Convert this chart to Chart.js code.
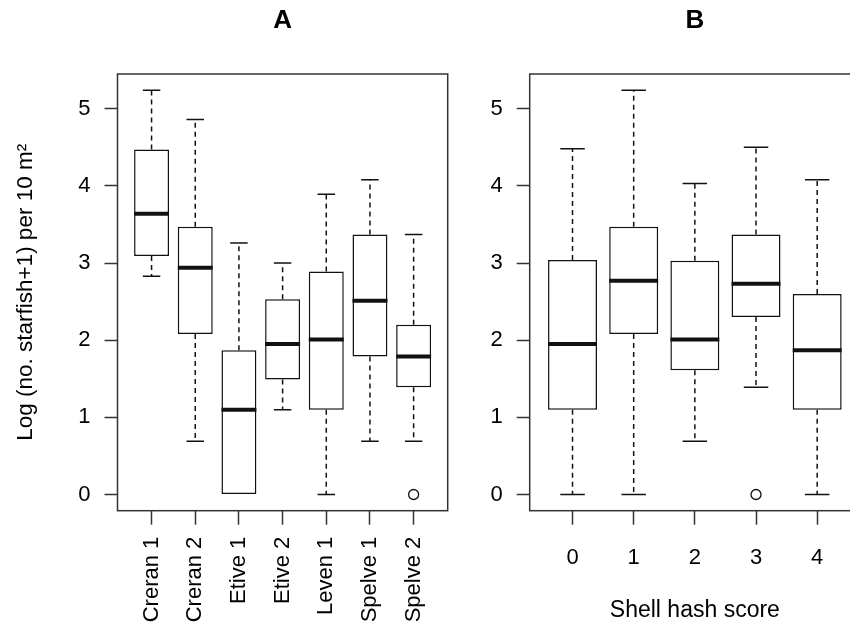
<!DOCTYPE html>
<html>
<head>
<meta charset="utf-8">
<script src="https://cdn.jsdelivr.net/npm/chart.js@4.4.1/dist/chart.umd.min.js"></script>
<style>
  html, body { margin: 0; padding: 0; background: #fff; overflow: hidden; width: 850px; height: 628px; }
  .panel { position: absolute; top: 0; height: 628px; }
  #wrapA { left: 0; width: 470px; }
  #wrapB { left: 425px; width: 445px; }
</style>
</head>
<body>
<div class="panel" id="wrapA"><canvas id="chartA" width="470" height="628"></canvas></div>
<div class="panel" id="wrapB"><canvas id="chartB" width="445" height="628"></canvas></div>
<script>
// ========== DATA ==========
// Panel A: by site
const siteLabels   = ['Creran 1', 'Creran 2', 'Etive 1', 'Etive 2', 'Leven 1', 'Spelve 1', 'Spelve 2'];
const siteLow      = [2.83, 0.69, 0.00, 1.10, 0.00, 0.69, 0.69];
const siteQ1       = [3.09, 2.08, 0.00, 1.49, 1.10, 1.79, 1.39];
const siteMedian   = [3.64, 2.94, 1.10, 1.95, 2.01, 2.51, 1.79];
const siteQ3       = [4.47, 3.47, 1.87, 2.53, 2.89, 3.37, 2.20];
const siteHigh     = [5.24, 4.86, 3.26, 3.00, 3.89, 4.08, 3.37];
const siteOutliers = [[], [], [], [], [], [], [0]];

// Panel B: by shell hash score
const hashLabels   = ['0', '1', '2', '3', '4'];
const hashLow      = [0.00, 0.00, 0.69, 1.39, 0.00];
const hashQ1       = [1.10, 2.08, 1.61, 2.30, 1.10];
const hashMedian   = [1.95, 2.77, 2.01, 2.73, 1.87];
const hashQ3       = [3.04, 3.47, 3.03, 3.37, 2.60];
const hashHigh     = [4.48, 5.24, 4.03, 4.50, 4.08];
const hashOutliers = [[], [], [], [0], []];

const yTicks = [0, 1, 2, 3, 4, 5];

// ========== STYLE ==========
const ink = '#111';
const frameColor = '#333';
const fontFamily = '"Liberation Sans", Arial, sans-serif';

// ========== BOXPLOT PLUGIN (whiskers, caps, medians, frame, panel letter) ==========
const boxPlot = {
    id: 'boxPlot',
    afterDatasetsDraw(chart, args, opts) {
        const { ctx, chartArea, scales: { x, y } } = chart;
        const unit = x.getPixelForValue(1) - x.getPixelForValue(0);
        const boxHalf = unit * 0.4;
        const capHalf = unit * 0.2;

        ctx.save();
        opts.median.forEach((m, i) => {
            const cx = x.getPixelForValue(i + 1);
            const yLow = y.getPixelForValue(opts.low[i]);
            const yQ1 = y.getPixelForValue(opts.q1[i]);
            const yQ3 = y.getPixelForValue(opts.q3[i]);
            const yHigh = y.getPixelForValue(opts.high[i]);

            // dashed whiskers
            ctx.strokeStyle = ink;
            ctx.lineWidth = 1.5;
            ctx.setLineDash([5, 4]);
            ctx.beginPath();
            if (yHigh < yQ3) { ctx.moveTo(cx, yQ3); ctx.lineTo(cx, yHigh); }
            if (yLow > yQ1) { ctx.moveTo(cx, yQ1); ctx.lineTo(cx, yLow); }
            ctx.stroke();

            // caps (hidden under the box edge when whisker has no length)
            ctx.setLineDash([]);
            ctx.beginPath();
            if (yHigh < yQ3) { ctx.moveTo(cx - capHalf, yHigh); ctx.lineTo(cx + capHalf, yHigh); }
            if (yLow > yQ1) { ctx.moveTo(cx - capHalf, yLow); ctx.lineTo(cx + capHalf, yLow); }
            ctx.stroke();

            // median
            const ym = y.getPixelForValue(m);
            ctx.lineWidth = 4;
            ctx.beginPath();
            ctx.moveTo(cx - boxHalf, ym); ctx.lineTo(cx + boxHalf, ym);
            ctx.stroke();
        });

        // plot frame
        ctx.strokeStyle = frameColor;
        ctx.lineWidth = 1.5;
        ctx.strokeRect(chartArea.left, chartArea.top,
            chartArea.right - chartArea.left, chartArea.bottom - chartArea.top);

        // panel letter
        ctx.fillStyle = '#000';
        ctx.font = 'bold 26px ' + fontFamily;
        ctx.textAlign = 'center';
        ctx.textBaseline = 'middle';
        ctx.fillText(opts.title, (chartArea.left + chartArea.right) / 2, 21);
        ctx.restore();
    }
};

// ========== CHART BUILDER ==========
function makeBoxChart(canvasId, cfg) {
    const n = cfg.labels.length;
    const boxes = cfg.q1.map((q, i) => ({ x: i + 1, y: [q, cfg.q3[i]] }));
    const outliers = [];
    cfg.outliers.forEach((list, i) => list.forEach(v => outliers.push({ x: i + 1, y: v })));
    const pad = (n * 1.08 - n) / 2;

    return new Chart(document.getElementById(canvasId), {
        type: 'bar',
        data: {
            datasets: [{
                data: boxes,
                backgroundColor: '#fff',
                borderColor: ink,
                borderWidth: 1.5,
                borderSkipped: false,
                categoryPercentage: 1,
                barPercentage: 0.8
            }, {
                type: 'scatter',
                data: outliers,
                pointRadius: 5,
                pointBackgroundColor: '#fff',
                pointBorderColor: ink,
                pointBorderWidth: 1.3
            }]
        },
        options: {
            responsive: false,
            animation: false,
            layout: { padding: { top: 74, right: cfg.padRight, left: 0, bottom: 0 } },
            plugins: {
                legend: { display: false },
                tooltip: { enabled: false },
                boxPlot: {
                    title: cfg.title,
                    low: cfg.low, q1: cfg.q1, median: cfg.median, q3: cfg.q3, high: cfg.high
                }
            },
            scales: {
                x: {
                    type: 'linear',
                    offset: false,
                    min: 0.5 - pad,
                    max: n + 0.5 + pad,
                    afterBuildTicks: scale => { scale.ticks = cfg.labels.map((_, i) => ({ value: i + 1 })); },
                    afterFit: scale => { scale.height = 117.3; },
                    grid: {
                        display: true,
                        offset: false,
                        drawOnChartArea: false,
                        drawTicks: true,
                        tickLength: 14,
                        tickColor: frameColor,
                        tickWidth: 1.5
                    },
                    border: { display: false },
                    ticks: {
                        autoSkip: false,
                        minRotation: cfg.rotate,
                        maxRotation: cfg.rotate,
                        padding: cfg.rotate ? 12 : 20,
                        color: '#000',
                        font: { family: fontFamily, size: 22 },
                        callback: value => cfg.labels[value - 1]
                    },
                    title: {
                        display: !!cfg.xTitle,
                        text: cfg.xTitle || '',
                        color: '#000',
                        font: { family: fontFamily, size: 23 },
                        padding: { top: 0, bottom: 4 }
                    }
                },
                y: {
                    min: -0.21,
                    max: 5.45,
                    afterBuildTicks: scale => { scale.ticks = yTicks.map(v => ({ value: v })); },
                    afterFit: scale => { scale.width = cfg.yWidth; },
                    grid: {
                        display: true,
                        drawOnChartArea: false,
                        drawTicks: true,
                        tickLength: 13,
                        tickColor: frameColor,
                        tickWidth: 1.5
                    },
                    border: { display: false },
                    ticks: {
                        padding: 14,
                        color: '#000',
                        font: { family: fontFamily, size: 22 }
                    },
                    title: {
                        display: !!cfg.yTitle,
                        text: cfg.yTitle || '',
                        color: '#000',
                        font: { family: fontFamily, size: 22.5 },
                        padding: { top: 12, bottom: 0 }
                    }
                }
            }
        },
        plugins: [boxPlot]
    });
}

makeBoxChart('chartA', {
    title: 'A',
    labels: siteLabels,
    low: siteLow, q1: siteQ1, median: siteMedian, q3: siteQ3, high: siteHigh,
    outliers: siteOutliers,
    rotate: 90,
    yWidth: 117.5,
    padRight: 22.3,
    yTitle: 'Log (no. starfish+1) per 10 m²'
});

makeBoxChart('chartB', {
    title: 'B',
    labels: hashLabels,
    low: hashLow, q1: hashQ1, median: hashMedian, q3: hashQ3, high: hashHigh,
    outliers: hashOutliers,
    rotate: 0,
    yWidth: 104.7,
    padRight: 10,
    xTitle: 'Shell hash score'
});
</script>
</body>
</html>
